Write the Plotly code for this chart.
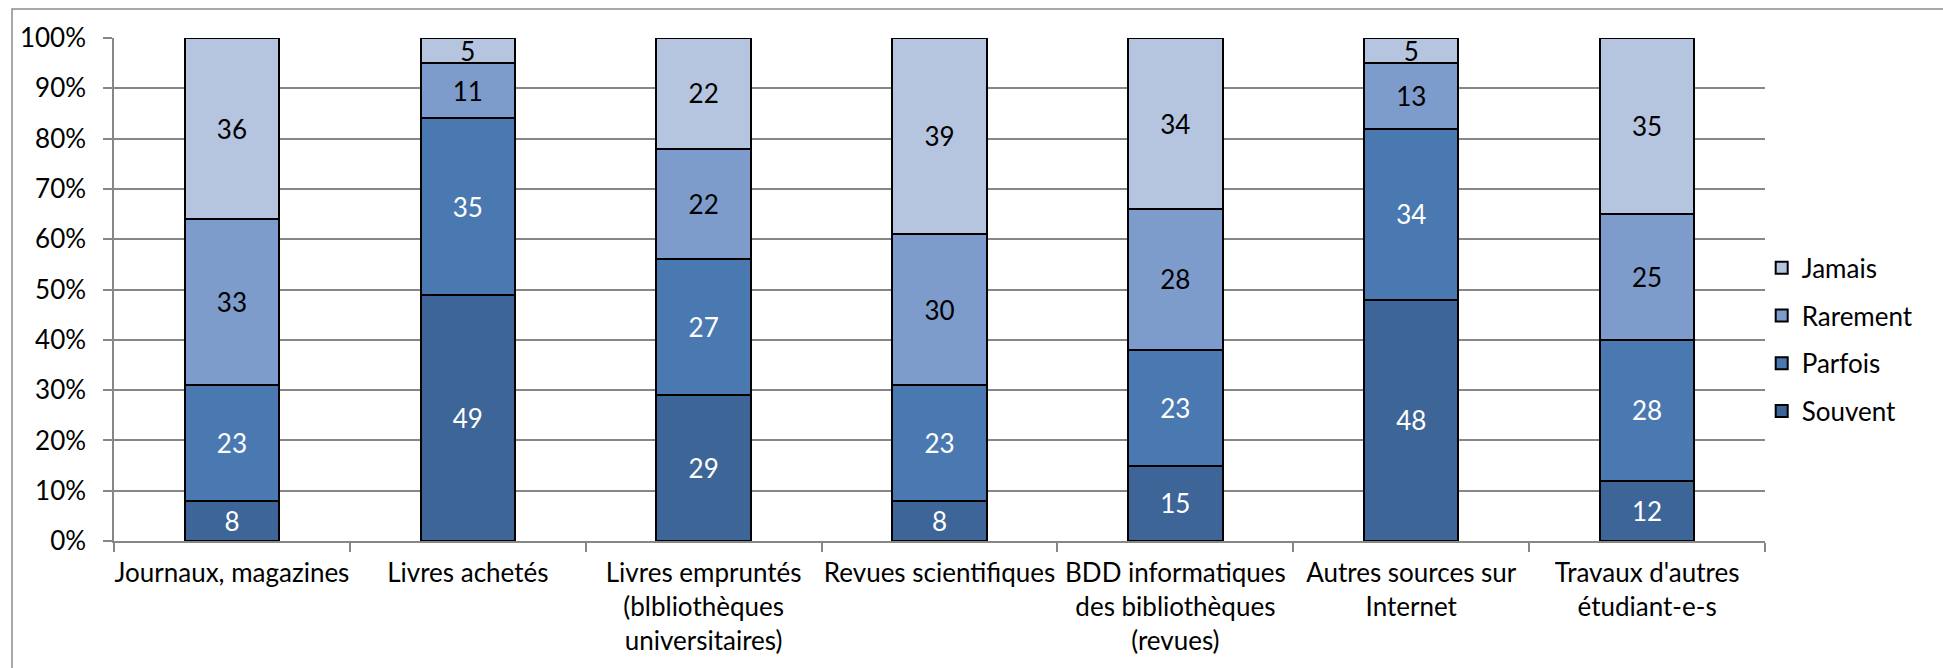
import plotly.graph_objects as go

categories = [
    "Journaux, magazines",
    "Livres achetés",
    "Livres empruntés<br>(blbliothèques<br>universitaires)",
    "Revues scientifiques",
    "BDD informatiques<br>des bibliothèques<br>(revues)",
    "Autres sources sur<br>Internet",
    "Travaux d'autres<br>étudiant-e-s",
]
series_names = ["Souvent", "Parfois", "Rarement", "Jamais"]
souvent = [8, 49, 29, 8, 15, 48, 12]
parfois = [23, 35, 27, 23, 23, 34, 28]
rarement = [33, 11, 22, 30, 28, 13, 25]
jamais = [36, 5, 22, 39, 34, 5, 35]
y_ticks = [0, 10, 20, 30, 40, 50, 60, 70, 80, 90, 100]
y_tick_labels = [f"{v}%" for v in y_ticks]

colors = ["#3d6597", "#4a79b1", "#7d9ccb", "#b6c5df"]
label_colors = ["white", "white", "black", "black"]
FONT = "Lato, Carlito, Calibri, sans-serif"
FS = 26

fig = go.Figure()
for i, (name, vals) in enumerate(zip(series_names, [souvent, parfois, rarement, jamais])):
    fig.add_trace(go.Bar(
        x=categories, y=vals, name=name,
        marker=dict(color=colors[i], line=dict(color="black", width=2)),
        text=[str(v) for v in vals], textposition="inside",
        insidetextanchor="middle", textangle=0,
        constraintext="none",
        textfont=dict(color=label_colors[i], size=FS, family=FONT),
        legendgroup=name, legendrank=1000 - i,
        hoverinfo="skip",
    ))

W, H = 1943, 668
L, R, T, B = 114, 178, 38, 127
pw = W - L - R
ph = H - T - B
fx = (12 - L) / pw
fy = 1 + (T - 9) / ph

fig.update_layout(
    width=W, height=H,
    margin=dict(l=L, r=R, t=T, b=B, pad=0, autoexpand=False),
    barmode="stack", bargap=0.6,
    plot_bgcolor="white", paper_bgcolor="white",
    font=dict(family=FONT, size=FS, color="black"),
    uniformtext=dict(minsize=FS, mode="show"),
    legend=dict(
        traceorder="grouped", x=0.998, xanchor="left", y=0.40, yanchor="middle",
        font=dict(size=FS, family=FONT), tracegroupgap=11,
        itemwidth=30, bgcolor="rgba(0,0,0,0)",
    ),
    showlegend=True,
    shapes=[dict(
        type="path", xref="paper", yref="paper",
        path=f"M {fx},-0.5 L {fx},{fy} L 1.3,{fy}",
        line=dict(color="#8c8c8c", width=1.5),
    )],
)
fig.update_yaxes(
    range=[0, 100], tickvals=y_ticks, ticktext=y_tick_labels,
    showgrid=True, gridcolor="#878787", gridwidth=1.5,
    showline=True, linecolor="#878787", linewidth=1.5,
    ticks="outside", ticklen=9, tickcolor="#878787", tickwidth=1.5,
    ticklabelstandoff=12, zeroline=False, automargin=False,
    tickfont=dict(size=FS, family=FONT),
)
fig.update_xaxes(
    showline=True, linecolor="#878787", linewidth=1.5,
    ticks="outside", tickson="boundaries", ticklen=9, tickcolor="#878787", tickwidth=1.5,
    tickfont=dict(size=FS, family=FONT), ticklabelstandoff=8,
    tickangle=0, automargin=False,
)

fig.write_html("out.html", post_script="document.body.style.margin='0';",
               config={"displayModeBar": False})
